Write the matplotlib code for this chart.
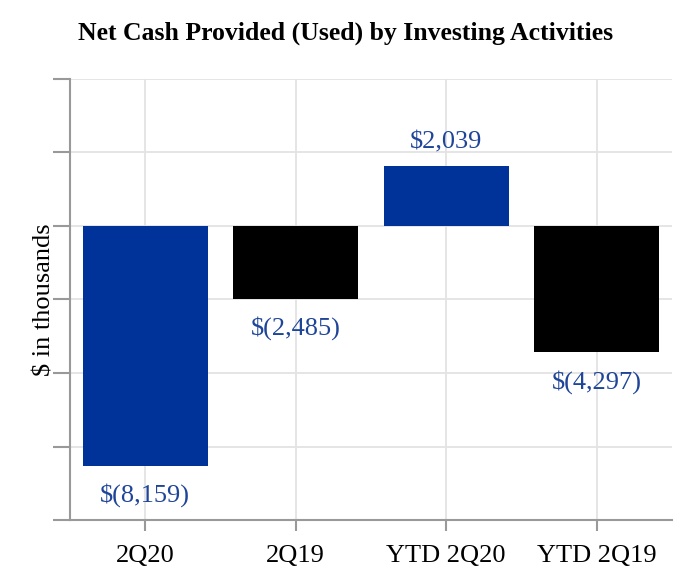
import matplotlib
matplotlib.use("Agg")
import matplotlib.pyplot as plt
import numpy as np

categories = ["2Q20", "2Q19", "YTD 2Q20", "YTD 2Q19"]
values = [-8159, -2485, 2039, -4297]
bar_colors = ["#003399", "#000000", "#003399", "#000000"]
value_labels = ["$(8,159)", "$(2,485)", "$2,039", "$(4,297)"]

plt.rcParams["font.family"] = ["Liberation Serif", "DejaVu Serif"]

fig = plt.figure(figsize=(6.92, 5.86), dpi=100)
ax = fig.add_axes([70 / 692, 1 - 520 / 586, 602 / 692, 441 / 586])

x = np.arange(len(categories))
ax.bar(x, values, width=0.83, color=bar_colors, zorder=3)

label_color = "#1f4599"
for xi, v, lab in zip(x, values, value_labels):
    # labels sit above positive bars, below negative ones
    off = 800 if v >= 0 else -1000
    ax.text(xi, v + off, lab, ha="center", va="center", fontsize=19, color=label_color)

ax.set_xlim(-0.5, 3.5)
ax.set_ylim(-10000, 5000)
ax.set_yticks(np.arange(-10000, 5001, 2500))
ax.set_yticklabels([])
ax.set_xticks(x)
ax.set_xticklabels(categories, fontsize=19)

ax.grid(True, color="#e3e3e3", linewidth=1.3, zorder=0)
for s in ["top", "right"]:
    ax.spines[s].set_visible(False)
for s in ["left", "bottom"]:
    ax.spines[s].set_color("#999999")
    ax.spines[s].set_linewidth(1.5)
ax.tick_params(axis="y", length=12, width=1.5, color="#999999")
ax.tick_params(axis="x", length=8, width=1.5, color="#999999", pad=10)

ax.set_ylabel("$ in thousands", fontsize=19)
ax.yaxis.set_label_coords(-0.024, 0.5)
fig.text(0.5, 1 - 33 / 586, "Net Cash Provided (Used) by Investing Activities",
         ha="center", va="center", fontsize=18.5, fontweight="bold")

fig.savefig("out.png", dpi=100)
